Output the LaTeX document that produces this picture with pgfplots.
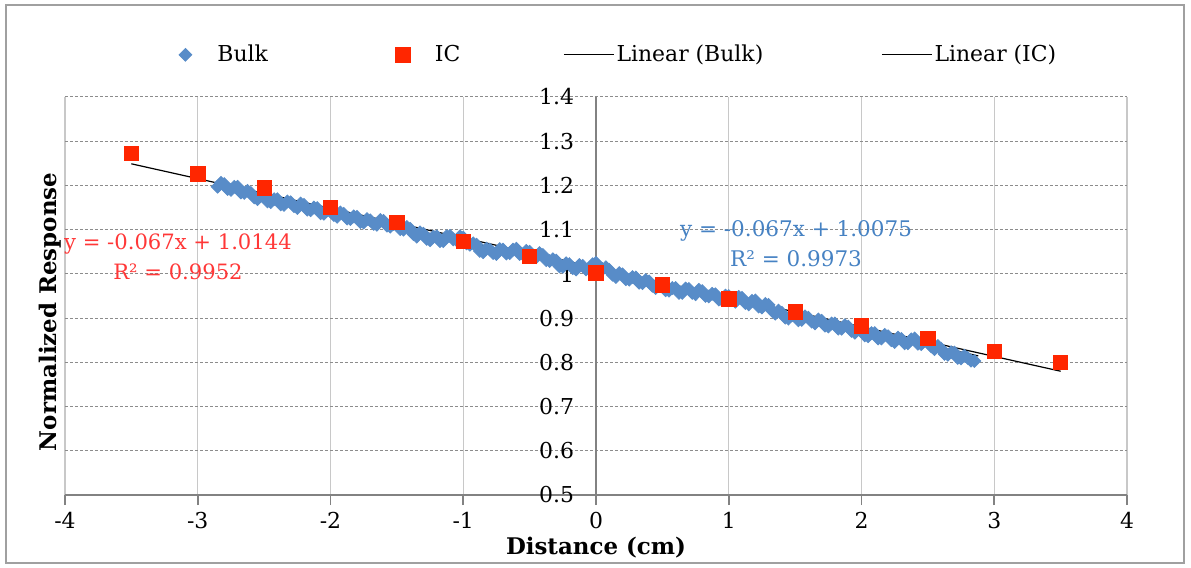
\documentclass[border=0pt]{standalone}
\usepackage{fontspec}
\setmainfont{DejaVu Serif}
\usepackage{pgfplots}
\pgfplotsset{compat=1.18}
\definecolor{bulkblue}{RGB}{88,140,200}
\definecolor{bulktext}{RGB}{70,130,195}
\definecolor{icred}{RGB}{255,38,0}
\definecolor{ictext}{RGB}{255,55,55}
\definecolor{gridgray}{RGB}{200,200,200}
\definecolor{dashgray}{RGB}{140,140,140}
\definecolor{axisgray}{RGB}{130,130,130}
\definecolor{framegray}{RGB}{160,160,160}
\pgfplotsset{
  markleg/.style={legend image code/.code={\path (0bp,0bp) -- (23.5bp,0bp); \draw[##1] plot coordinates {(8.5bp,0bp)};}},
  lineleg/.style={legend image code/.code={\draw[##1] (0bp,0bp) -- (25bp,0bp);}},
}

\begin{document}
\begin{tikzpicture}
\path (-32.5bp,-36.5bp) rectangle (563bp,247.5bp);
\draw[framegray, line width=0.8bp] (-29.5bp,-34bp) rectangle (559.5bp,245bp);
\begin{axis}[
  at={(0,0)}, anchor=south west,
  scale only axis, width=531bp, height=199bp,
  xmin=-4, xmax=4, ymin=0.5, ymax=1.4,
  xtick={-4,-3,-2,-1,0,1,2,3,4},
  ytick={0.5,0.6,0.7,0.8,0.9,1.0,1.1,1.2,1.3,1.4},
  axis x line=bottom, axis y line=center,
  hide obscured x ticks=false, hide obscured y ticks=false,
  axis line style={-, axisgray, line width=0.8bp},
  tick align=outside, major tick length=5bp,
  xtick style={axisgray, line width=0.8bp},
  ytick style={draw=none},
  xmajorgrids, ymajorgrids,
  x grid style={gridgray, line width=0.6bp},
  y grid style={dashgray, line width=0.5bp, dash pattern=on 1.5bp off 1bp},
  /pgf/number format/assume math mode=true,
  tick label style={font=\fontsize{11}{13}\selectfont, text=black},
  yticklabel style={/pgf/number format/fixed, /pgf/number format/precision=1, anchor=east, xshift=-2.5bp},
  xlabel={Distance (cm)}, ylabel={Normalized Response},
  every axis x label/.style={at={(axis description cs:0.5,-0.133)}, anchor=center, font=\bfseries\fontsize{11.5}{13}\selectfont},
  every axis y label/.style={at={(axis description cs:-0.014,0.46)}, anchor=center, rotate=90, font=\bfseries\fontsize{11.5}{13}\selectfont},
  legend columns=4,
  legend style={at={(axis description cs:0.097,1.106)}, anchor=west, draw=none, fill=none, inner sep=0pt,
    font=\fontsize{11}{12}\selectfont,
    /tikz/every odd column/.append style={column sep=0bp},
    /tikz/column 2/.style={column sep=58bp},
    /tikz/column 4/.style={column sep=50.5bp},
    /tikz/column 6/.style={column sep=58bp},
    nodes={inner xsep=1bp}},
]
\addplot[draw=none, mark=diamond*, mark size=3.2bp, mark options={draw=bulkblue, fill=bulkblue, xscale=1.33}, markleg]
coordinates {
(-2.85,1.197) (-2.80,1.203) (-2.75,1.190) (-2.70,1.197) (-2.65,1.183) (-2.60,1.183)
(-2.55,1.169) (-2.50,1.175) (-2.45,1.162) (-2.40,1.169) (-2.35,1.156) (-2.30,1.162)
(-2.25,1.149) (-2.20,1.156) (-2.15,1.144) (-2.10,1.149) (-2.05,1.136) (-2.00,1.142)
(-1.95,1.129) (-1.90,1.136) (-1.85,1.124) (-1.80,1.129) (-1.75,1.116) (-1.70,1.121)
(-1.65,1.111) (-1.60,1.120) (-1.55,1.107) (-1.50,1.113) (-1.45,1.100) (-1.40,1.102)
(-1.35,1.084) (-1.30,1.091) (-1.25,1.076) (-1.20,1.085) (-1.15,1.074) (-1.10,1.086)
(-1.05,1.076) (-1.00,1.082) (-0.95,1.066) (-0.90,1.066) (-0.85,1.049) (-0.80,1.055)
(-0.75,1.045) (-0.70,1.055) (-0.65,1.047) (-0.60,1.057) (-0.55,1.044) (-0.50,1.050)
(-0.45,1.038) (-0.40,1.043) (-0.35,1.029) (-0.30,1.030) (-0.25,1.016) (-0.20,1.022)
(-0.15,1.010) (-0.10,1.018) (-0.05,1.012) (0.00,1.025) (0.05,1.011) (0.10,1.009)
(0.15,0.993) (0.20,0.999) (0.25,0.987) (0.30,0.992) (0.35,0.979) (0.40,0.983)
(0.45,0.968) (0.50,0.974) (0.55,0.962) (0.60,0.968) (0.65,0.957) (0.70,0.966)
(0.75,0.954) (0.80,0.961) (0.85,0.949) (0.90,0.954) (0.95,0.941) (1.00,0.950)
(1.05,0.937) (1.10,0.946) (1.15,0.931) (1.20,0.940) (1.25,0.924) (1.30,0.930)
(1.35,0.910) (1.40,0.912) (1.45,0.899) (1.50,0.906) (1.55,0.896) (1.60,0.901)
(1.65,0.888) (1.70,0.894) (1.75,0.881) (1.80,0.888) (1.85,0.876) (1.90,0.881)
(1.95,0.867) (2.00,0.872) (2.05,0.859) (2.10,0.866) (2.15,0.854) (2.20,0.859)
(2.25,0.846) (2.30,0.853) (2.35,0.843) (2.40,0.854) (2.45,0.841) (2.50,0.847)
(2.55,0.830) (2.60,0.831) (2.65,0.817) (2.70,0.822) (2.75,0.809) (2.80,0.810)
(2.85,0.803)
(-2.825,1.206) (-2.775,1.192) (-2.725,1.197) (-2.675,1.184) (-2.625,1.188) (-2.575,1.173)
(-2.525,1.178) (-2.475,1.164) (-2.425,1.169) (-2.375,1.157) (-2.325,1.164) (-2.275,1.153)
(-2.225,1.159) (-2.175,1.145) (-2.125,1.150) (-2.075,1.137) (-2.025,1.144) (-1.975,1.133)
(-1.925,1.139) (-1.875,1.125) (-1.825,1.130) (-1.775,1.117) (-1.725,1.124) (-1.675,1.113)
(-1.625,1.122) (-1.575,1.109) (-1.525,1.113) (-1.475,1.101) (-1.425,1.106) (-1.375,1.090)
(-1.325,1.094) (-1.275,1.079) (-1.225,1.084) (-1.175,1.074) (-1.125,1.085) (-1.075,1.078)
(-1.025,1.085) (-0.975,1.069) (-0.925,1.069) (-0.875,1.052) (-0.825,1.057) (-0.775,1.047)
(-0.725,1.056) (-0.675,1.046) (-0.625,1.055) (-0.575,1.045) (-0.525,1.052) (-0.475,1.041)
(-0.425,1.047) (-0.375,1.031) (-0.325,1.033) (-0.275,1.017) (-0.225,1.024) (-0.175,1.013)
(-0.125,1.020) (-0.075,1.010) (-0.025,1.022) (0.025,1.012) (0.075,1.015) (0.125,0.998)
(0.175,1.002) (0.225,0.988) (0.275,0.993) (0.325,0.980) (0.375,0.986) (0.425,0.973)
(0.475,0.977) (0.525,0.963) (0.575,0.968) (0.625,0.957) (0.675,0.967) (0.725,0.957)
(0.775,0.964) (0.825,0.950) (0.875,0.955) (0.925,0.942) (0.975,0.951) (1.025,0.941)
(1.075,0.948) (1.125,0.934) (1.175,0.939) (1.225,0.926) (1.275,0.932) (1.325,0.917)
(1.375,0.917) (1.425,0.901) (1.475,0.906) (1.525,0.895) (1.575,0.904) (1.625,0.892)
(1.675,0.897) (1.725,0.883) (1.775,0.888) (1.825,0.876) (1.875,0.884) (1.925,0.871)
(1.975,0.876) (2.025,0.861) (2.075,0.866) (2.125,0.854) (2.175,0.862) (2.225,0.850)
(2.275,0.856) (2.325,0.843) (2.375,0.852) (2.425,0.842) (2.475,0.849) (2.525,0.836)
(2.575,0.837) (2.625,0.819) (2.675,0.823) (2.725,0.810) (2.775,0.815) (2.825,0.804)
};
\addlegendentry{Bulk}
\addplot[draw=none, mark=square*, mark size=3.6bp, mark options={draw=icred, fill=icred}, markleg]
coordinates {
(-3.5,1.273) (-3.0,1.226) (-2.5,1.194) (-2.0,1.150) (-1.5,1.116) (-1.0,1.073)
(-0.5,1.040) (0.0,1.002) (0.5,0.975) (1.0,0.943) (1.5,0.914) (2.0,0.882)
(2.5,0.854) (3.0,0.825) (3.5,0.800)
};
\addlegendentry{IC}
\addplot[black, line width=0.6bp, mark=none, lineleg]
coordinates {(-2.88,1.20046) (2.88,0.81454)};
\addlegendentry{Linear (Bulk)}
\addplot[black, line width=0.6bp, mark=none, lineleg]
coordinates {(-3.5,1.2489) (3.5,0.7799)};
\addlegendentry{Linear (IC)}
\node[text=ictext, align=center, font=\fontsize{10.6}{15}\selectfont] at (axis cs:-3.149,1.038) {y = -0.067x + 1.0144\\R² = 0.9952};
\node[text=bulktext, align=center, font=\fontsize{10.8}{15}\selectfont] at (axis cs:1.507,1.0686) {y = -0.067x + 1.0075\\R² = 0.9973};
\end{axis}
\end{tikzpicture}
\end{document}
